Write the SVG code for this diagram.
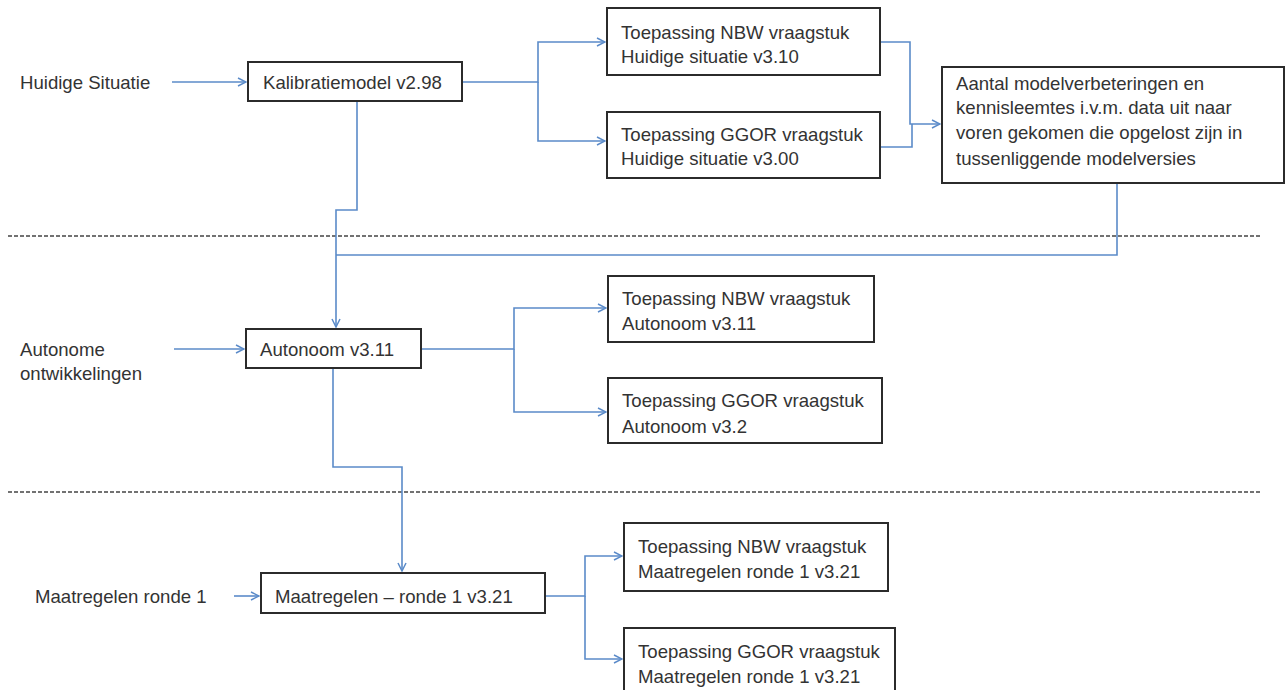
<svg xmlns="http://www.w3.org/2000/svg" width="1285" height="690" viewBox="0 0 1285 690">
<style>
.box{fill:#fff;stroke:#2b2b2b;stroke-width:2}
.t{font-family:"Liberation Sans",Arial,sans-serif;font-size:18.6px;fill:#333}
.c{fill:none;stroke:#5b8bc9;stroke-width:1.6}
.d{fill:none;stroke:#444;stroke-width:1.5;stroke-dasharray:4 2}
</style>
<defs>
<marker id="a" viewBox="0 0 10 10" refX="9" refY="5" markerWidth="10" markerHeight="10" markerUnits="userSpaceOnUse" orient="auto">
<path d="M1,1 L9,5 L1,9" fill="none" stroke="#5b8bc9" stroke-width="1.5"/>
</marker>
</defs>
<rect width="1285" height="690" fill="#fff"/>
<g id="dividers">
<line class="d" x1="8" y1="236" x2="1262" y2="236"/>
<line class="d" x1="8" y1="492" x2="1262" y2="492"/>
</g>
<g id="connectors">
<path class="c" d="M172,82 H246" marker-end="url(#a)"/>
<path class="c" d="M462,82 H538 V42 H605" marker-end="url(#a)"/>
<path class="c" d="M538,82 V141 H605" marker-end="url(#a)"/>
<path class="c" d="M880,42 H910 V124 H940" marker-end="url(#a)"/>
<path class="c" d="M880,147 H912 V124"/>
<path class="c" d="M357,101 V210 H336 V327" marker-end="url(#a)"/>
<path class="c" d="M1117,183 V255 H336"/>
<path class="c" d="M174,349 H244" marker-end="url(#a)"/>
<path class="c" d="M421,349 H514 V308 H606" marker-end="url(#a)"/>
<path class="c" d="M514,349 V412 H606" marker-end="url(#a)"/>
<path class="c" d="M333,368 V467 H402 V571" marker-end="url(#a)"/>
<path class="c" d="M234,596 H259" marker-end="url(#a)"/>
<path class="c" d="M545,596 H585 V556 H622" marker-end="url(#a)"/>
<path class="c" d="M585,596 V659 H622" marker-end="url(#a)"/>
</g>
<g id="lbl-huidige"><text class="t" x="20" y="89">Huidige Situatie</text></g>
<g id="kalibratie">
<rect class="box" x="248" y="62" width="214" height="39"/>
<text class="t" x="263" y="89">Kalibratiemodel v2.98</text>
</g>
<g id="nbw1">
<rect class="box" x="607" y="8" width="273" height="67"/>
<text class="t" x="621" y="39">Toepassing NBW vraagstuk</text>
<text class="t" x="621" y="63">Huidige situatie v3.10</text>
</g>
<g id="ggor1">
<rect class="box" x="607" y="112" width="273" height="66"/>
<text class="t" x="621" y="141">Toepassing GGOR vraagstuk</text>
<text class="t" x="621" y="165">Huidige situatie v3.00</text>
</g>
<g id="aantal">
<rect class="box" x="942" y="67" width="342" height="116"/>
<text class="t" x="956" y="90">Aantal modelverbeteringen en</text>
<text class="t" x="956" y="114">kennisleemtes i.v.m. data uit naar</text>
<text class="t" x="956" y="139">voren gekomen die opgelost zijn in</text>
<text class="t" x="956" y="165">tussenliggende modelversies</text>
</g>
<g id="lbl-autonome">
<text class="t" x="20" y="356">Autonome</text>
<text class="t" x="20" y="380">ontwikkelingen</text>
</g>
<g id="autonoom">
<rect class="box" x="246" y="329" width="175" height="39"/>
<text class="t" x="260" y="356">Autonoom v3.11</text>
</g>
<g id="nbw2">
<rect class="box" x="608" y="276" width="266" height="66"/>
<text class="t" x="622" y="305">Toepassing NBW vraagstuk</text>
<text class="t" x="622" y="330">Autonoom v3.11</text>
</g>
<g id="ggor2">
<rect class="box" x="608" y="378" width="274" height="65"/>
<text class="t" x="622" y="407">Toepassing GGOR vraagstuk</text>
<text class="t" x="622" y="433">Autonoom v3.2</text>
</g>
<g id="lbl-maatregelen"><text class="t" x="35" y="603">Maatregelen ronde 1</text></g>
<g id="maatregelen">
<rect class="box" x="261" y="573" width="284" height="40"/>
<text class="t" x="275" y="603">Maatregelen – ronde 1 v3.21</text>
</g>
<g id="nbw3">
<rect class="box" x="624" y="523" width="264" height="68"/>
<text class="t" x="638" y="553">Toepassing NBW vraagstuk</text>
<text class="t" x="638" y="578">Maatregelen ronde 1 v3.21</text>
</g>
<g id="ggor3">
<rect class="box" x="624" y="628" width="271" height="70"/>
<text class="t" x="638" y="658">Toepassing GGOR vraagstuk</text>
<text class="t" x="638" y="683">Maatregelen ronde 1 v3.21</text>
</g>
</svg>
